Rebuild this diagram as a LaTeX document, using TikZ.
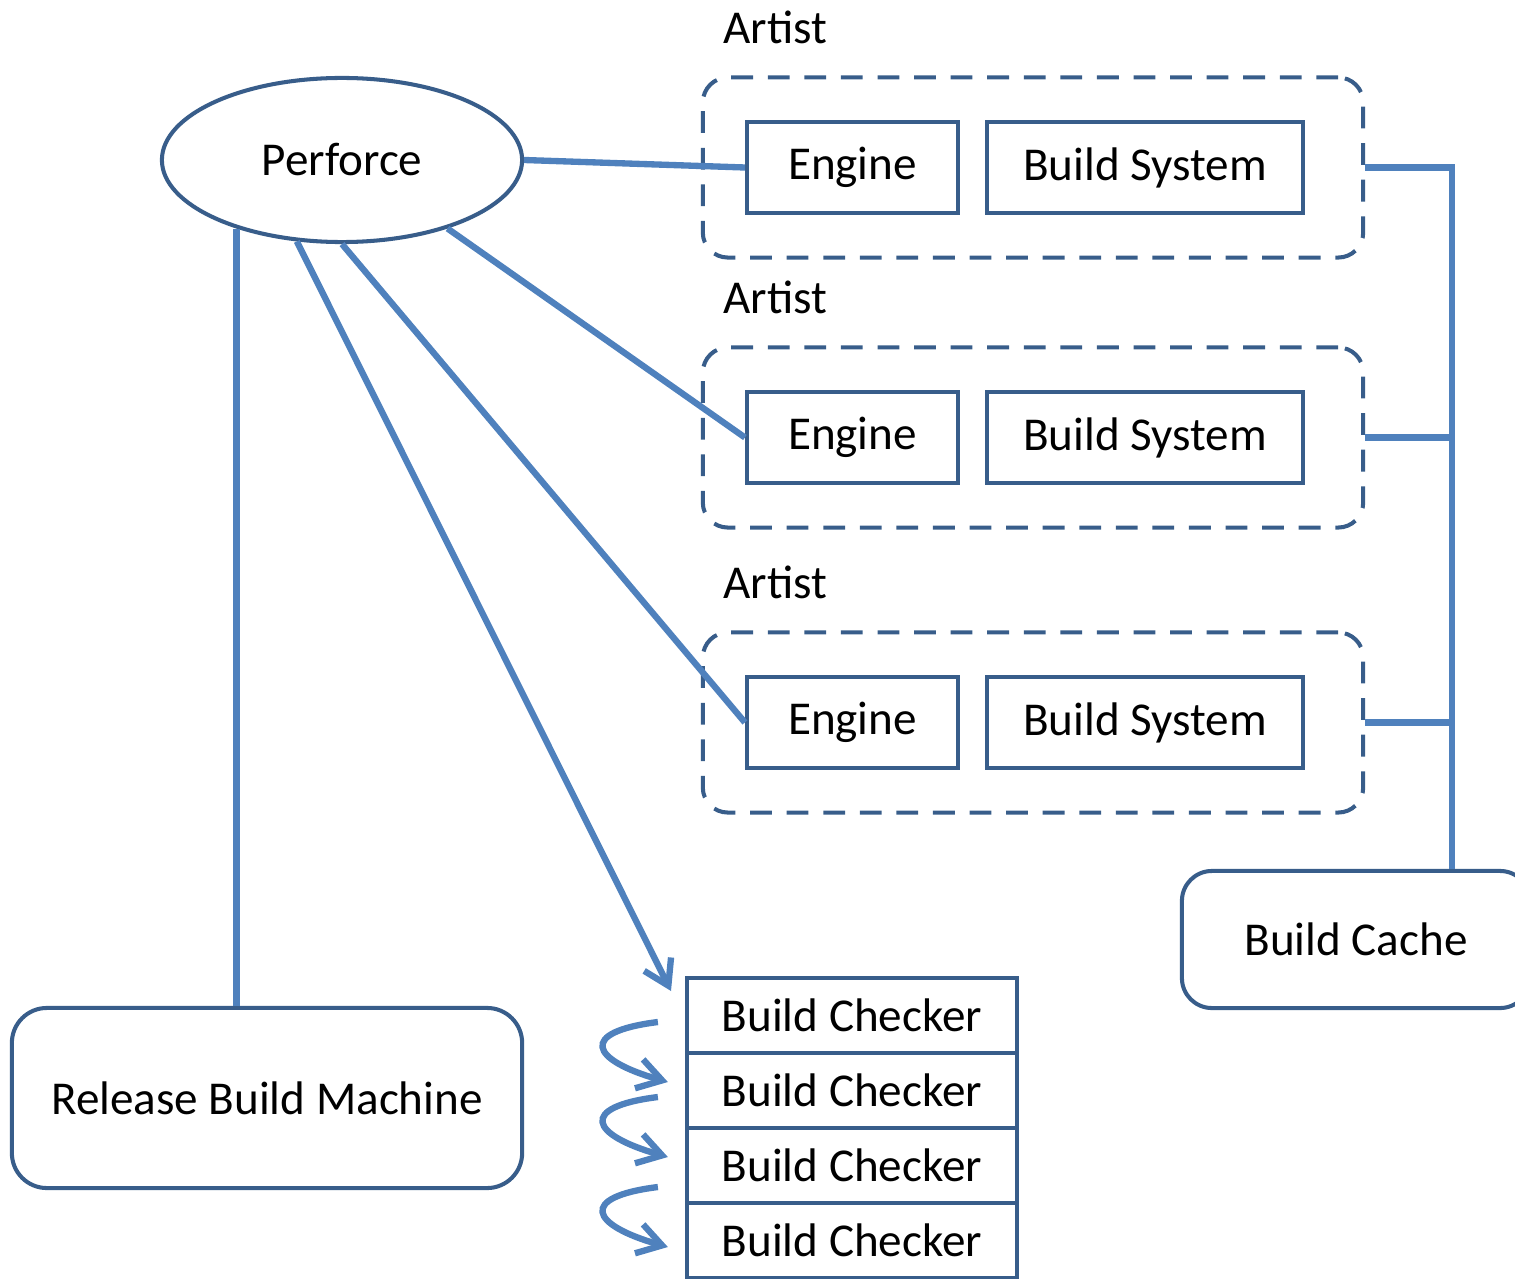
\documentclass[tikz,border=0pt]{standalone}
\usepackage{fontspec}
\setmainfont{Carlito}
\usepackage{xcolor}
\usetikzlibrary{arrows.meta, shapes.geometric}
\definecolor{boxcolor}{RGB}{56, 93, 138}
\definecolor{linecolor}{RGB}{79, 129, 189}

\begin{document}
\begin{tikzpicture}[x=0.01cm, y=-0.01cm,
			every node/.style={font=\fontsize{13.4}{16}\selectfont, inner sep=0pt},
			box/.style={draw=boxcolor, line width=1.15pt, fill=white, minimum height=0.91cm},
			roundbox/.style={draw=boxcolor, line width=1.15pt, fill=white, rounded corners=0.3cm},
			group/.style={draw=boxcolor, line width=1.15pt, dash pattern=on 6.2pt off 4.2pt, rounded corners=0.25cm, minimum width=6.60cm, minimum height=1.80cm},
			link/.style={draw=linecolor, line width=1.8pt},
			curl/.style={link, -{Straight Barb[length=2.4mm, width=3mm]}}]
			\useasboundingbox (0,0) rectangle (1515,1279);
			\node[draw=boxcolor, line width=1.15pt, fill=white, ellipse, minimum width=3.60cm, minimum height=1.64cm] (perforce) at (342,160) {Perforce};
			\foreach \i/\y in {1/167.5, 2/437.5, 3/722.5} {
				\node[group] (artist\i) at (1033,\y) {};
				\node[anchor=west] (artistlabel\i) at (723,\y-140) {Artist};
				\node[box, minimum width=2.11cm] (engine\i) at (852.5,\y) {Engine};
				\node[box, minimum width=3.16cm] (system\i) at (1145,\y) {Build System};
			}
			\node[roundbox, minimum width=3.48cm, minimum height=1.37cm] (cache) at (1356,939.5) {Build Cache};
			\node[roundbox, rounded corners=0.35cm, minimum width=5.10cm, minimum height=1.80cm] (release) at (267,1098) {Release Build Machine};
			\foreach \i in {1,...,4}
				\node[box, minimum width=3.30cm, minimum height=0.75cm] (checker\i) at (852,940.5+75*\i) {Build Checker};
			\draw[link] (perforce.east) -- (engine1.west);
			\draw[link] (perforce.-33) -- (engine2.west);
			\draw[link] (perforce.south) -- (engine3.west);
			\draw[link] (perforce.-147) -- (perforce.-147 |- release.north);
			\coordinate (checkin) at (671,991);
			\draw[curl] (perforce.-119) -- (checkin);
			\coordinate (bus) at (1452,0);
			\draw[link] (artist1.east) -- (artist1.east -| bus) -- (bus |- cache.north);
			\foreach \i in {2,3}
				\draw[link] (artist\i.east) -- (artist\i.east -| bus);
			\foreach \i/\j/\d in {1/2/0, 2/3/0, 3/4/15}
				\draw[curl] ([shift={(-27,6.5+\d)}]checker\i.west) .. controls +(-80,10) and +(-78,-22) .. ([shift={(-17,-8.5+\d)}]checker\j.west);
		\end{tikzpicture}
\end{document}
